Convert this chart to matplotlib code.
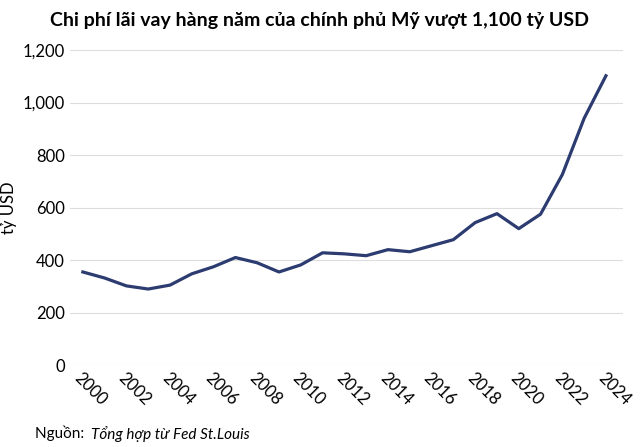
import matplotlib
matplotlib.use("Agg")
import matplotlib.pyplot as plt

years = list(range(2000, 2025))
values = [355, 332, 302, 290, 305, 348, 375, 410, 390, 355, 382, 428, 424, 417, 440, 432,
          455, 478, 543, 577, 520, 575, 726, 940, 1102]
yticks = [0, 200, 400, 600, 800, 1000, 1200]
xticks = list(range(2000, 2025, 2))

plt.rcParams["font.family"] = "Lato"
fig = plt.figure(figsize=(6.4, 4.47), dpi=100)
ax = fig.add_axes([0.109, 0.183, 0.865, 0.705])
ax.plot(years, values, color="#2c3b70", lw=2.3)
ax.set_ylim(0, 1200)
ax.set_xlim(1999.4, 2024.8)
ax.set_yticks(yticks)
ax.set_yticklabels([f"{v:,}" for v in yticks], fontsize=12)
ax.set_xticks(xticks)
ax.set_xticklabels([str(x) for x in xticks], rotation=-45, ha="left", rotation_mode="anchor", fontsize=12)
ax.grid(axis="y", color="#dddddd", lw=0.8)
ax.set_axisbelow(True)
for s in ax.spines.values():
    s.set_visible(False)
ax.tick_params(length=0)
ax.set_ylabel("tỷ USD", fontsize=12)
fig.text(0.5, 0.955, "Chi phí lãi vay hàng năm của chính phủ Mỹ vượt 1,100 tỷ USD",
         ha="center", va="center", fontsize=14, fontweight="bold")
fig.text(0.055, 0.03, "Nguồn: ", fontsize=11, va="center")
fig.text(0.142, 0.03, "Tổng hợp từ Fed St.Louis", fontsize=11, style="italic", va="center")
fig.savefig("out.png")
